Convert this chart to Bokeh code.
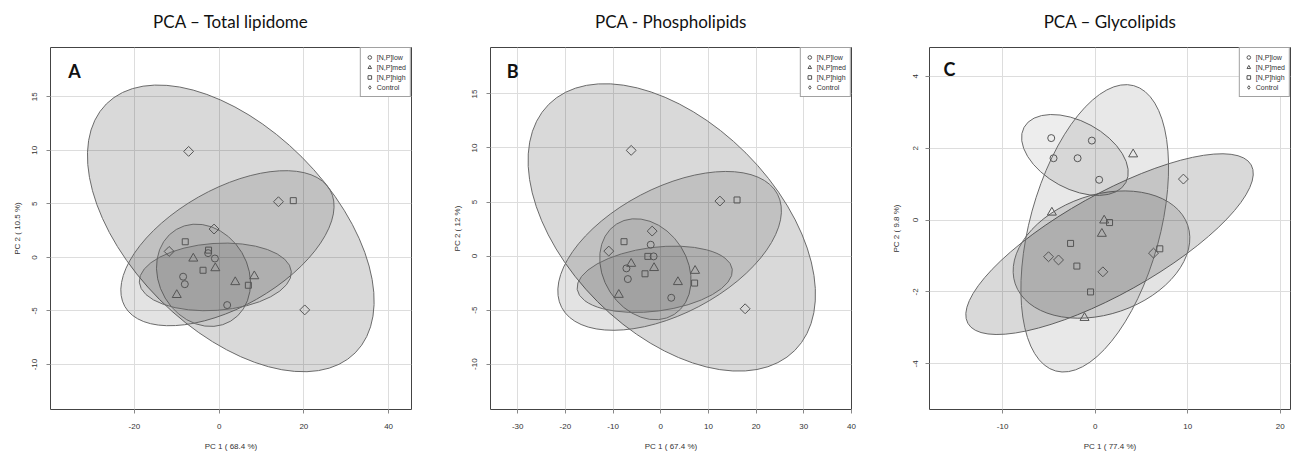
from bokeh.plotting import figure
from bokeh.layouts import row
from bokeh.models import Label, Legend, LegendItem, Range1d, Title
from bokeh.embed import file_html
from bokeh.resources import INLINE
from math import pi

GROUPS = ["[N,P]low", "[N,P]med", "[N,P]high", "Control"]

# ---------------- Panel A : Total lipidome ----------------
A_title = "PCA – Total lipidome"
A_xlabel = "PC 1 ( 68.4 %)"
A_ylabel = "PC 2 ( 10.5 %)"
A_xticks = [-20, 0, 20, 40]
A_xtick_labels = ["-20", "0", "20", "40"]
A_yticks = [-10, -5, 0, 5, 10, 15]
A_ytick_labels = ["-10", "-5", "0", "5", "10", "15"]
A_low_x = [-2.6, -1.0, -8.5, -8.1, 1.9]
A_low_y = [0.4, -0.1, -1.8, -2.5, -4.45]
A_med_x = [-6.1, -0.9, 3.8, 8.3, -10.0]
A_med_y = [-0.1, -1.0, -2.3, -1.75, -3.5]
A_high_x = [17.5, -8.0, -2.5, -3.8, 6.9]
A_high_y = [5.3, 1.46, 0.68, -1.2, -2.6]
A_ctrl_x = [-7.2, 14.0, -1.2, -11.8, 20.2]
A_ctrl_y = [9.9, 5.2, 2.65, 0.56, -4.9]
# ellipses (order: Control, high, low, med)
A_ell_x = [2.75, 1.96, -3.69, -0.9]
A_ell_y = [2.71, 0.86, -1.67, -1.82]
A_ell_w = [352, 236, 106.6, 152.4]
A_ell_h = [201.4, 117.6, 89.2, 67]
A_ell_angle = [-45, 29.6, -59.3, 4.0]

# ---------------- Panel B : Phospholipids ----------------
B_title = "PCA - Phospholipids"
B_xlabel = "PC 1 ( 67.4 %)"
B_ylabel = "PC 2 ( 12 %)"
B_xticks = [-30, -20, -10, 0, 10, 20, 30, 40]
B_xtick_labels = ["-30", "-20", "-10", "0", "10", "20", "30", "40"]
B_yticks = [-10, -5, 0, 5, 10, 15]
B_ytick_labels = ["-10", "-5", "0", "5", "10", "15"]
B_low_x = [-2.1, -1.5, -7.2, -6.9, 2.2]
B_low_y = [1.05, -0.03, -1.14, -2.13, -3.86]
B_med_x = [-6.2, -1.4, 3.6, 7.2, -8.8]
B_med_y = [-0.71, -1.1, -2.4, -1.36, -3.58]
B_high_x = [16.0, -7.7, -2.7, -3.3, 7.1]
B_high_y = [5.19, 1.33, -0.03, -1.64, -2.5]
B_ctrl_x = [-6.2, 12.4, -1.8, -10.9, 17.7]
B_ctrl_y = [9.78, 5.09, 2.31, 0.46, -4.88]
B_ell_x = [2.31, 1.86, -3.22, -1.26]
B_ell_y = [2.65, 0.48, -1.22, -2.15]
B_ell_w = [348, 243.8, 107.2, 156.4]
B_ell_h = [210, 125.8, 84, 63.8]
B_ell_angle = [-45, 27.7, -57.4, 7.35]

# ---------------- Panel C : Glycolipids ----------------
C_title = "PCA – Glycolipids"
C_xlabel = "PC 1 ( 77.4 %)"
C_ylabel = "PC 2 ( 9.8 %)"
C_xticks = [-10, 0, 10, 20]
C_xtick_labels = ["-10", "0", "10", "20"]
C_yticks = [-4, -2, 0, 2, 4]
C_ytick_labels = ["-4", "-2", "0", "2", "4"]
C_low_x = [-4.75, -0.36, -4.5, -1.9, 0.43]
C_low_y = [2.28, 2.21, 1.72, 1.72, 1.12]
C_med_x = [4.1, -4.68, 0.97, 0.72, -1.15]
C_med_y = [1.83, 0.21, -0.01, -0.38, -2.72]
C_high_x = [1.55, -2.66, 6.98, -1.98, -0.5]
C_high_y = [-0.07, -0.65, -0.8, -1.28, -2.0]
C_ctrl_x = [9.53, -5.04, -3.96, 6.3, 0.83]
C_ctrl_y = [1.14, -1.02, -1.11, -0.92, -1.44]
C_ell_x = [1.55, 0.68, -2.19, -0.05]
C_ell_y = [-0.67, -0.96, 1.81, -0.23]
C_ell_w = [324.6, 182.2, 115.8, 295.8]
C_ell_h = [99.8, 119.4, 67.4, 130]
C_ell_angle = [29.2, 18.8, -28.5, 74.7]

ELL_ALPHA = [0.15, 0.11, 0.07, 0.09]   # Control, high, low, med
PT_COLOR = "#555555"
FRAME_W, FRAME_H = 361, 362


def panel(title, letter, letter_pos, xr, yr, xticks, xtl, yticks, ytl,
          xlabel, ylabel, pts, ell, borders, ylab_standoff=9):
    bl, br = borders
    p = figure(frame_width=FRAME_W, frame_height=FRAME_H,
               x_range=Range1d(*xr), y_range=Range1d(*yr),
               output_backend="svg", toolbar_location=None,
               min_border_left=bl, min_border_right=br,
               min_border_top=47, min_border_bottom=42,
               background_fill_color="white", border_fill_color="white")

    # real title, with a small spacer title between it and the frame
    p.title.text = title
    p.title.align = "center"
    p.title.text_font = "Lato"
    p.title.text_font_size = "17px"
    p.title.text_font_style = "normal"
    p.title.text_color = "#111111"
    p.add_layout(Title(text=" ", text_font_size="8px", standoff=0), "above")

    p.outline_line_color = "#444444"
    p.outline_line_width = 1

    for ax, ticks, labels in ((p.xaxis, xticks, xtl), (p.yaxis, yticks, ytl)):
        ax.ticker = ticks
        ax.major_label_overrides = {t: l for t, l in zip(ticks, labels)}
        ax.axis_line_color = None
        ax.major_tick_line_color = "#888888"
        ax.major_tick_in = 0
        ax.major_tick_out = 4
        ax.minor_tick_line_color = None
        ax.major_label_text_font = "Liberation Sans"
        ax.major_label_text_font_size = "8px"
        ax.major_label_text_color = "#333333"
        ax.axis_label_text_font = "Liberation Sans"
        ax.axis_label_text_font_size = "8px"
        ax.axis_label_text_font_style = "normal"
        ax.axis_label_text_color = "#333333"
    p.xaxis.axis_label = xlabel
    p.yaxis.axis_label = ylabel
    p.xaxis.major_label_standoff = 10
    p.xaxis.axis_label_standoff = 10
    p.yaxis.major_label_orientation = "vertical"
    p.yaxis.major_label_standoff = ylab_standoff
    p.yaxis.axis_label_standoff = 8 + (9 - ylab_standoff)

    p.xgrid.grid_line_color = "#dddddd"
    p.ygrid.grid_line_color = "#dddddd"
    p.xgrid.grid_line_width = 1
    p.ygrid.grid_line_width = 1

    ex, ey, ew, eh, ea = ell
    for i in range(len(ex)):
        p.ellipse(x=[ex[i]], y=[ey[i]], width=[ew[i]], height=[eh[i]],
                  angle=[ea[i]], width_units="screen", height_units="screen",
                  angle_units="deg", fill_color="black",
                  fill_alpha=ELL_ALPHA[i], line_color="#6a6a6a",
                  line_width=1)

    (lx, ly), (mx, my), (hx, hy), (cx, cy) = pts
    r_low = p.scatter(lx, ly, marker="circle", size=7, fill_color=None,
                      line_color=PT_COLOR, line_width=1)
    r_med = p.scatter(mx, my, marker="triangle", size=9, fill_color=None,
                      line_color=PT_COLOR, line_width=1)
    r_high = p.scatter(hx, hy, marker="square", size=6, fill_color=None,
                       line_color=PT_COLOR, line_width=1)
    p.scatter(cx, cy, marker="square", angle=pi / 4, size=7,
              fill_color=None, line_color=PT_COLOR, line_width=1)
    # hidden twin of the Control points, only used for the legend symbol
    r_ctrl_leg = p.scatter(cx, cy, marker="diamond", size=7, visible=False,
                           fill_color=None, line_color=PT_COLOR, line_width=1)

    items = [LegendItem(label=g, renderers=[r])
             for g, r in zip(GROUPS, [r_low, r_med, r_high, r_ctrl_leg])]
    leg = Legend(items=items, location="top_right", margin=0, padding=4,
                 spacing=0, label_text_font="Liberation Sans",
                 label_text_font_size="7px", label_text_color="#333333",
                 glyph_width=9, glyph_height=10, label_height=10,
                 label_standoff=3, border_line_color="#444444",
                 border_line_width=1, background_fill_color="white",
                 background_fill_alpha=1, inactive_fill_alpha=0,
                 click_policy="none")
    p.add_layout(leg)

    p.add_layout(Label(x=letter_pos[0], y=letter_pos[1], text=letter,
                       text_font="Lato", text_font_style="bold",
                       text_font_size="18px", text_color="#111111",
                       text_baseline="top", text_align="left"))
    return p


pA = panel(A_title, "A", (-35.6, 18.4), (-39.8, 45.4), (-14.2, 19.6),
           A_xticks, A_xtick_labels, A_yticks, A_ytick_labels,
           A_xlabel, A_ylabel,
           [(A_low_x, A_low_y), (A_med_x, A_med_y), (A_high_x, A_high_y),
            (A_ctrl_x, A_ctrl_y)],
           (A_ell_x, A_ell_y, A_ell_w, A_ell_h, A_ell_angle), (50, 22))
pB = panel(B_title, "B", (-32.3, 18.1), (-35.7, 40.0), (-14.2, 19.3),
           B_xticks, B_xtick_labels, B_yticks, B_ytick_labels,
           B_xlabel, B_ylabel,
           [(B_low_x, B_low_y), (B_med_x, B_med_y), (B_high_x, B_high_y),
            (B_ctrl_x, B_ctrl_y)],
           (B_ell_x, B_ell_y, B_ell_w, B_ell_h, B_ell_angle), (57, 15))
pC = panel(C_title, "C", (-16.4, 4.5), (-17.9, 21.1), (-5.27, 4.8),
           C_xticks, C_xtick_labels, C_yticks, C_ytick_labels,
           C_xlabel, C_ylabel,
           [(C_low_x, C_low_y), (C_med_x, C_med_y), (C_high_x, C_high_y),
            (C_ctrl_x, C_ctrl_y)],
           (C_ell_x, C_ell_y, C_ell_w, C_ell_h, C_ell_angle), (63, 1),
           ylab_standoff=7)

layout = row(pA, pB, pC)
open("out.html", "w").write(file_html(layout, INLINE))
